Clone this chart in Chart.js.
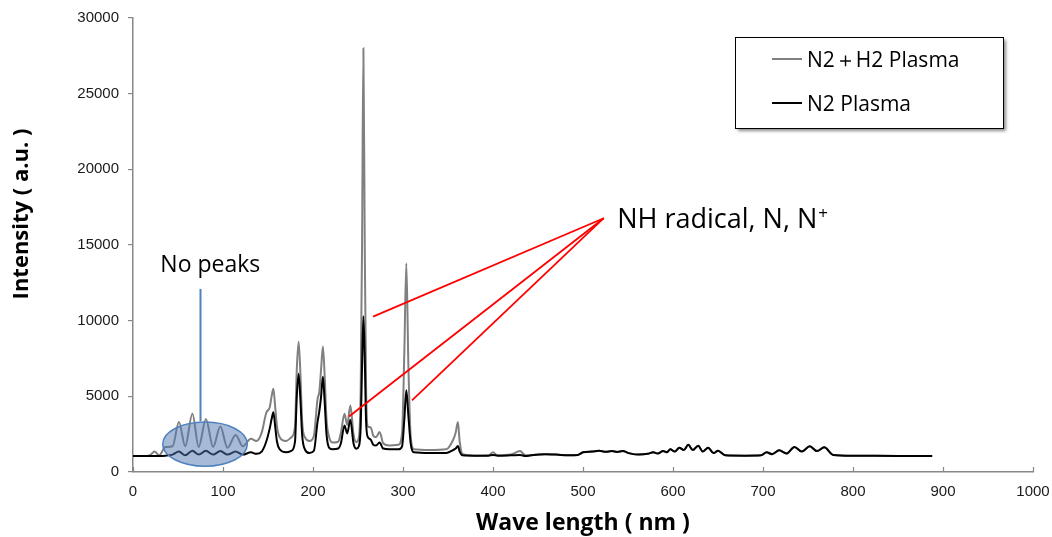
<!DOCTYPE html>
<html>
<head>
<meta charset="utf-8">
<title>Plasma emission spectra</title>
<script src="https://cdn.jsdelivr.net/npm/chart.js@4.4.1/dist/chart.umd.min.js"></script>
<style>
  html, body { margin: 0; padding: 0; background: #fff; }
  #wrap { width: 1052px; height: 537px; position: relative; }
</style>
</head>
<body>
<div id="wrap"><canvas id="spectrum"></canvas></div>
<script>
// Wavelength grid (nm), shared by both spectra
const wavelengths = [
  0, 12, 19, 24, 29, 36, 44, 51, 58, 66,
  73, 81, 89, 97, 105, 114, 122, 131, 137, 143,
  148, 152, 154, 156, 158, 160, 163, 170, 176, 180,
  182, 184, 186, 188, 191, 196, 201, 205, 207, 209,
  211, 213, 215, 218, 222, 228, 231, 235, 238, 241.5,
  245, 248, 251, 253, 254.5, 256, 257.5, 259, 261, 264,
  267, 270, 274, 278, 285, 295, 299, 301.5, 303.7, 306,
  308.5, 312, 330, 348, 355.5, 358.5, 361, 363, 366, 380,
  395, 400, 405, 420, 430, 436, 445, 458, 470, 485,
  494, 500, 510, 518, 525, 532, 538, 544, 552, 562,
  572, 578, 583, 589, 593, 597, 602, 607, 612, 617,
  622, 628, 633, 639, 645, 650, 658, 680, 698, 704,
  710, 718, 726, 735, 743, 752, 760, 768, 778, 800,
  850, 888
];

// N2 + H2 plasma intensity (a.u.)
const n2h2Intensity = [
  1050, 1050, 1120, 1350, 1100, 1650, 1700, 3300, 1700, 3850,
  1650, 3500, 1650, 3000, 1600, 2450, 1700, 2200, 2050, 2600,
  3900, 4300, 5000, 5500, 4300, 3000, 2300, 2050, 2300, 3000,
  6800, 8600, 6500, 3300, 2300, 2050, 2400, 4800, 5300, 6800,
  8300, 6300, 3500, 2300, 1950, 2000, 2600, 3850, 3100, 4400,
  2500, 1980, 2300, 5500, 15000, 28000, 15000, 5500, 3000, 2950,
  2400, 2300, 2650, 1900, 1750, 1800, 2600, 8000, 13800, 7000,
  2400, 1500, 1450, 1500, 2100, 2600, 3300, 2000, 1200, 1080,
  1100, 1300, 1100, 1150, 1380, 1100, 1130, 1180, 1150, 1100,
  1120, 1300, 1350, 1400, 1330, 1380, 1320, 1380, 1230, 1150,
  1200, 1300, 1220, 1380, 1300, 1500, 1350, 1600, 1450, 1800,
  1450, 1740, 1350, 1600, 1250, 1400, 1100, 1080, 1100, 1300,
  1180, 1430, 1220, 1650, 1350, 1700, 1380, 1630, 1130, 1080,
  1060, 1050
];

// N2 plasma intensity (a.u.)
const n2Intensity = [
  1050, 1050, 1050, 1060, 1060, 1080, 1150, 1350, 1100, 1400,
  1150, 1400, 1150, 1380, 1150, 1350, 1150, 1300, 1200, 1350,
  2000, 2900, 3500, 3950, 3000, 2000, 1500, 1300, 1400, 2000,
  5000, 6500, 4800, 2400, 1500, 1250, 1400, 3300, 4000, 5000,
  6300, 4600, 2500, 1600, 1500, 1550, 1900, 3080, 2550, 3450,
  1900, 1540, 1700, 3000, 7000, 10300, 7500, 3300, 2300, 2150,
  1800, 1750, 1950, 1550, 1500, 1500, 1700, 3500, 5400, 3700,
  1900, 1300, 1250, 1250, 1450, 1550, 1720, 1350, 1100, 1080,
  1080, 1120, 1080, 1100, 1120, 1050, 1130, 1180, 1150, 1100,
  1120, 1300, 1350, 1400, 1330, 1380, 1320, 1380, 1230, 1150,
  1200, 1300, 1220, 1380, 1300, 1500, 1350, 1600, 1450, 1800,
  1450, 1740, 1350, 1600, 1250, 1400, 1100, 1080, 1100, 1300,
  1180, 1430, 1220, 1650, 1350, 1700, 1380, 1630, 1130, 1080,
  1060, 1050
];

const xTickLabels = ['0', '100', '200', '300', '400', '500', '600', '700', '800', '900', '1000'];
const yTickLabels = ['0', '5000', '10000', '15000', '20000', '25000', '30000'];

const seriesNames = ['N2＋H2 Plasma', 'N2 Plasma'];

// Callouts, in data units (nm, a.u.)
const noPeakZone = { nm: 80, value: 1840, halfWidth: 47, halfHeight: 1460 };
const noPeakPointer = { nm: 75, from: 12100, to: 3350 };
const noPeakLabel = { nm: 30.4, value: 13190, text: 'No peaks' };
const radicalHub = { nm: 523, value: 16770 };
const radicalTargets = [
  { nm: 266.7, value: 10270 },
  { nm: 240, value: 3670 },
  { nm: 310, value: 4730 }
];
const radicalLabel = { nm: 538, value: 16150, text: 'NH radical, N, N', sup: '+' };

const COLORS = {
  n2h2: '#808080',
  n2: '#000000',
  axis: '#878787',
  tick: '#1a1a1a',
  pointer: '#ff0000',
  zoneFill: 'rgba(79, 120, 180, 0.5)',
  zoneEdge: '#4f81bd'
};
const TEXT_FONT = '"Open Sans", "Noto Sans", sans-serif';
const TICK_FONT = '"Liberation Sans", Arial, sans-serif';

const toPoints = values => wavelengths.map((nm, i) => ({ x: nm, y: values[i] }));

// x-axis ticks point into the plot area
const inwardTicks = {
  id: 'inwardTicks',
  beforeDatasetsDraw(chart) {
    const { ctx, chartArea, scales: { x } } = chart;
    ctx.save();
    ctx.strokeStyle = COLORS.axis;
    ctx.lineWidth = 1.2;
    x.ticks.forEach(t => {
      const px = Math.round(x.getPixelForValue(t.value)) + 0.5;
      ctx.beginPath();
      ctx.moveTo(px, chartArea.bottom);
      ctx.lineTo(px, chartArea.bottom - 5);
      ctx.stroke();
    });
    ctx.restore();
  }
};

const callouts = {
  id: 'callouts',
  afterDatasetsDraw(chart) {
    const { ctx, scales: { x, y } } = chart;
    ctx.save();

    // blue pointer and shaded zone over the low-wavelength region
    ctx.strokeStyle = COLORS.zoneEdge;
    ctx.lineWidth = 2;
    ctx.beginPath();
    ctx.moveTo(x.getPixelForValue(noPeakPointer.nm), y.getPixelForValue(noPeakPointer.from));
    ctx.lineTo(x.getPixelForValue(noPeakPointer.nm), y.getPixelForValue(noPeakPointer.to));
    ctx.stroke();

    const cx = x.getPixelForValue(noPeakZone.nm);
    const cy = y.getPixelForValue(noPeakZone.value);
    const rx = x.getPixelForValue(noPeakZone.nm + noPeakZone.halfWidth) - cx;
    const ry = cy - y.getPixelForValue(noPeakZone.value + noPeakZone.halfHeight);
    ctx.beginPath();
    ctx.ellipse(cx, cy, rx, ry, 0, 0, Math.PI * 2);
    ctx.fillStyle = COLORS.zoneFill;
    ctx.fill();
    ctx.lineWidth = 1.5;
    ctx.stroke();

    // red leader lines
    ctx.strokeStyle = COLORS.pointer;
    ctx.lineWidth = 1.8;
    const hx = x.getPixelForValue(radicalHub.nm);
    const hy = y.getPixelForValue(radicalHub.value);
    radicalTargets.forEach(t => {
      ctx.beginPath();
      ctx.moveTo(hx, hy);
      ctx.lineTo(x.getPixelForValue(t.nm), y.getPixelForValue(t.value));
      ctx.stroke();
    });

    // labels
    ctx.fillStyle = '#000';
    ctx.textBaseline = 'alphabetic';
    ctx.textAlign = 'left';
    ctx.font = '23px ' + TEXT_FONT;
    ctx.fillText(noPeakLabel.text, x.getPixelForValue(noPeakLabel.nm), y.getPixelForValue(noPeakLabel.value));

    const lx = x.getPixelForValue(radicalLabel.nm);
    const ly = y.getPixelForValue(radicalLabel.value);
    ctx.font = '27px ' + TEXT_FONT;
    ctx.fillText(radicalLabel.text, lx, ly);
    const w = ctx.measureText(radicalLabel.text).width;
    ctx.font = '17px ' + TEXT_FONT;
    ctx.fillText(radicalLabel.sup, lx + w + 1, ly - 9);

    ctx.restore();
  }
};

// framed legend with a soft drop shadow, plus the axis titles
const frame = {
  id: 'frame',
  afterDraw(chart) {
    const { ctx, chartArea } = chart;
    const right = chartArea.right - 30;
    const top = chartArea.top + 19;
    const w = 268, h = 91;
    const left = right - w;
    ctx.save();

    ctx.shadowColor = 'rgba(0, 0, 0, 0.45)';
    ctx.shadowBlur = 3;
    ctx.shadowOffsetX = 3;
    ctx.shadowOffsetY = 3;
    ctx.fillStyle = '#fff';
    ctx.fillRect(left, top, w, h);
    ctx.shadowColor = 'transparent';
    ctx.strokeStyle = '#000';
    ctx.lineWidth = 1;
    ctx.strokeRect(left + 0.5, top + 0.5, w, h);

    const rows = [22, 66];
    chart.data.datasets.forEach((ds, i) => {
      const rowY = top + rows[i];
      ctx.strokeStyle = ds.borderColor;
      ctx.lineWidth = ds.borderWidth;
      ctx.beginPath();
      ctx.moveTo(left + 37, rowY);
      ctx.lineTo(left + 67, rowY);
      ctx.stroke();
      ctx.fillStyle = '#000';
      ctx.font = '21px ' + TEXT_FONT;
      ctx.textBaseline = 'alphabetic';
      ctx.textAlign = 'left';
      ctx.fillText(ds.label, left + 72, rowY + 8);
    });

    ctx.font = 'bold 23px ' + TEXT_FONT;
    ctx.textAlign = 'center';
    ctx.fillText('Wave length ( nm )', (chartArea.left + chartArea.right) / 2, chartArea.bottom + 58);

    ctx.translate(22, (chartArea.top + chartArea.bottom) / 2 - 31);
    ctx.rotate(-Math.PI / 2);
    ctx.font = 'bold 22px ' + TEXT_FONT;
    ctx.textBaseline = 'middle';
    ctx.fillText('Intensity ( a.u. )', 0, 0);

    ctx.restore();
  }
};

const ctx = document.getElementById('spectrum').getContext('2d');
new Chart(ctx, {
  type: 'line',
  data: {
    datasets: [
      {
        label: seriesNames[0],
        data: toPoints(n2h2Intensity),
        borderColor: COLORS.n2h2,
        borderWidth: 2,
        order: 1
      },
      {
        label: seriesNames[1],
        data: toPoints(n2Intensity),
        borderColor: COLORS.n2,
        borderWidth: 2,
        order: 0
      }
    ]
  },
  options: {
    responsive: true,
    maintainAspectRatio: false,
    animation: false,
    layout: { padding: { top: 16, right: 19, bottom: 0, left: 0 } },
    elements: {
      point: { radius: 0 },
      line: { cubicInterpolationMode: 'monotone', fill: false }
    },
    plugins: {
      legend: { display: false },
      tooltip: { enabled: false }
    },
    scales: {
      x: {
        type: 'linear',
        min: 0,
        max: 1000,
        ticks: {
          stepSize: 100,
          padding: 11,
          maxRotation: 0,
          color: COLORS.tick,
          font: { size: 15, family: TICK_FONT },
          callback: (value, i) => xTickLabels[i]
        },
        grid: { drawOnChartArea: false, drawTicks: false },
        border: { color: COLORS.axis, width: 1.5 },
        afterFit: scale => {
          // keep the plot edges fixed; the layout padding already leaves room for the end labels
          scale.height = 65;
          scale.paddingLeft = 0;
          scale.paddingRight = 0;
        }
      },
      y: {
        min: 0,
        max: 30000,
        ticks: {
          stepSize: 5000,
          padding: 9,
          color: COLORS.tick,
          font: { size: 15, family: TICK_FONT },
          callback: (value, i) => yTickLabels[i]
        },
        grid: { drawOnChartArea: false, drawTicks: true, tickLength: 5, color: COLORS.axis, lineWidth: 1.2 },
        border: { color: COLORS.axis, width: 1.5 },
        afterFit: scale => { scale.width = 133; }
      }
    }
  },
  plugins: [inwardTicks, callouts, frame]
});
</script>
</body>
</html>
